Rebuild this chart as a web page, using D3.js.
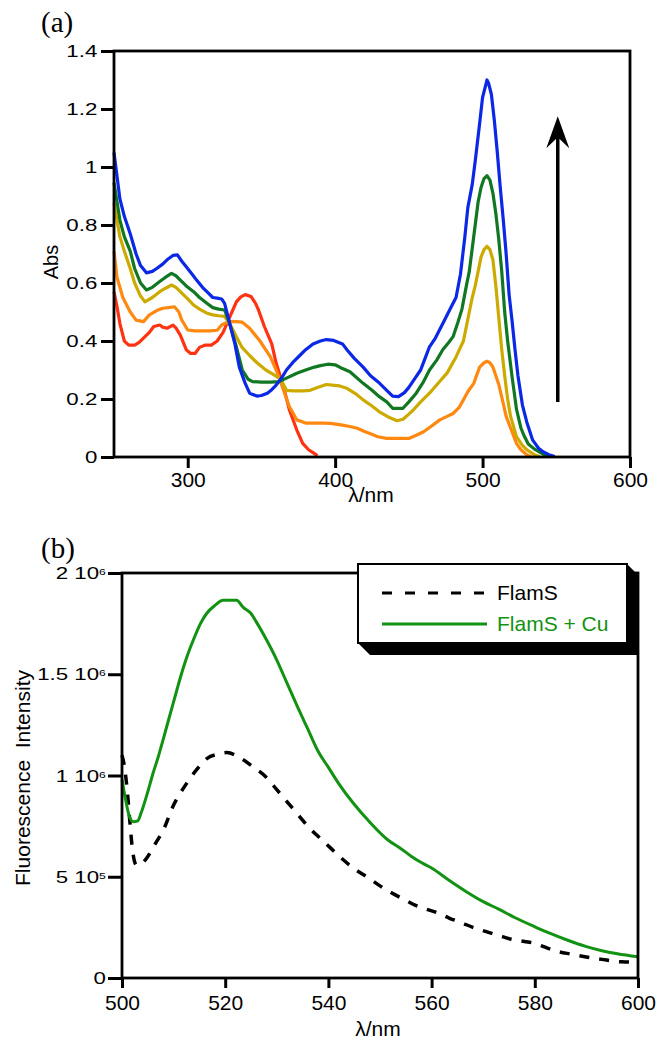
<!DOCTYPE html>
<html>
<head>
<meta charset="utf-8">
<script src="https://cdn.jsdelivr.net/npm/d3@7"></script>
<style>
  body { margin: 0; background: #fff; }
  text { font-family: "Liberation Sans", Arial, Helvetica, sans-serif; fill: #000; }
</style>
</head>
<body>
<div id="chart"></div>
<script>
// (a) absorbance titration, [nm, Abs]
const absRed = [[250,0.57],[252,0.52],[254,0.46],[257,0.4],[260,0.386],[264,0.386],[267,0.395],[270,0.41],[274,0.43],[277,0.45],[281,0.455],[283,0.448],[286,0.444],[290,0.455],[292,0.445],[295,0.42],[299,0.37],[302,0.357],[305,0.357],[308,0.378],[312,0.386],[316,0.386],[320,0.4],[324,0.43],[327,0.465],[330,0.5],[333,0.535],[336,0.552],[339,0.56],[343,0.553],[346,0.53],[348,0.507],[352,0.45],[357,0.39],[360,0.323],[365,0.242],[369,0.162],[374,0.093],[378,0.047],[382,0.025],[385,0.015],[388,0.005]];
const absOrange = [[250,0.71],[252,0.62],[256,0.55],[261,0.5],[265,0.472],[270,0.467],[274,0.49],[279,0.505],[283,0.513],[287,0.515],[291,0.518],[294,0.5],[296,0.472],[300,0.438],[305,0.435],[310,0.435],[315,0.435],[320,0.437],[323,0.455],[328,0.467],[333,0.467],[337,0.465],[342,0.444],[349,0.4],[356,0.346],[360,0.3],[365,0.23],[369,0.173],[374,0.128],[380,0.117],[386,0.117],[392,0.117],[397,0.116],[405,0.11],[410,0.105],[415,0.099],[420,0.088],[424,0.08],[429,0.07],[435,0.064],[442,0.064],[450,0.064],[455,0.075],[460,0.087],[465,0.105],[471,0.128],[476,0.14],[480,0.15],[484,0.17],[487,0.197],[490,0.225],[494,0.254],[498,0.31],[501,0.325],[503,0.33],[505,0.325],[507,0.31],[509,0.28],[511,0.25],[514,0.185],[516,0.14],[519,0.1],[523,0.047],[526,0.025],[530,0.008],[533,0]];
const absYellow = [[250,0.875],[254,0.76],[257,0.71],[261,0.65],[264,0.6],[268,0.555],[271,0.535],[276,0.55],[281,0.57],[285,0.582],[289,0.593],[292,0.585],[296,0.565],[300,0.545],[304,0.524],[308,0.51],[313,0.496],[317,0.49],[321,0.487],[325,0.485],[329,0.455],[333,0.415],[337,0.377],[342,0.35],[347,0.325],[353,0.3],[358,0.285],[363,0.268],[367,0.23],[372,0.228],[378,0.228],[383,0.23],[388,0.24],[394,0.25],[398,0.248],[403,0.245],[408,0.237],[414,0.218],[419,0.197],[425,0.176],[430,0.156],[436,0.138],[442,0.125],[446,0.13],[450,0.148],[453,0.162],[458,0.19],[464,0.22],[470,0.255],[476,0.29],[482,0.345],[487,0.4],[489,0.45],[491,0.5],[493,0.55],[495,0.59],[497,0.64],[499,0.69],[501,0.715],[503,0.727],[505,0.715],[507,0.68],[509,0.59],[511,0.48],[513,0.37],[515,0.28],[517,0.2],[519,0.14],[523,0.07],[527,0.04],[530,0.025],[535,0.008],[539,0.001]];
const absGreen = [[250,0.946],[254,0.817],[257,0.76],[261,0.71],[264,0.65],[268,0.6],[272,0.576],[276,0.585],[281,0.605],[285,0.62],[289,0.633],[292,0.625],[295,0.61],[299,0.59],[304,0.57],[308,0.55],[313,0.53],[317,0.515],[321,0.51],[325,0.507],[328,0.467],[333,0.38],[337,0.3],[341,0.268],[344,0.26],[350,0.258],[356,0.258],[362,0.26],[367,0.272],[374,0.289],[380,0.3],[386,0.31],[390,0.315],[395,0.32],[400,0.318],[405,0.305],[410,0.294],[419,0.254],[425,0.23],[430,0.208],[435,0.19],[439,0.168],[446,0.168],[450,0.19],[455,0.22],[460,0.26],[464,0.3],[469,0.335],[473,0.37],[477,0.395],[480,0.415],[483,0.46],[486,0.51],[489,0.59],[491,0.64],[493,0.72],[495,0.8],[497,0.88],[499,0.93],[501,0.96],[503,0.97],[505,0.955],[507,0.91],[509,0.84],[511,0.75],[513,0.64],[515,0.5],[517,0.4],[520,0.277],[523,0.165],[526,0.1],[528,0.075],[531,0.045],[535,0.028],[541,0.01],[546,0.002]];
const absBlue = [[250,1.05],[254,0.89],[257,0.83],[261,0.77],[265,0.7],[268,0.66],[272,0.635],[276,0.64],[279,0.65],[283,0.665],[286,0.68],[290,0.695],[293,0.697],[296,0.675],[299,0.656],[303,0.63],[306,0.61],[310,0.585],[313,0.57],[317,0.55],[320,0.548],[323,0.545],[325,0.53],[328,0.47],[332,0.39],[335,0.31],[339,0.254],[342,0.22],[347,0.21],[350,0.212],[354,0.22],[357,0.232],[360,0.248],[364,0.275],[367,0.3],[372,0.33],[376,0.35],[380,0.37],[385,0.39],[390,0.4],[394,0.405],[399,0.402],[405,0.39],[408,0.37],[413,0.34],[419,0.31],[424,0.28],[430,0.255],[435,0.23],[439,0.21],[443,0.208],[447,0.222],[450,0.24],[454,0.27],[458,0.3],[461,0.34],[464,0.38],[468,0.41],[472,0.45],[475,0.48],[478,0.51],[482,0.55],[485,0.63],[488,0.76],[490,0.86],[493,0.94],[495,1.02],[498,1.15],[500,1.24],[502,1.28],[503,1.3],[504,1.29],[506,1.25],[508,1.16],[510,1.05],[512,0.93],[514,0.82],[516,0.7],[518,0.56],[520,0.47],[522,0.37],[524,0.28],[527,0.18],[530,0.12],[534,0.058],[538,0.03],[541,0.018],[545,0.008],[549,0.002]];
const absSeries = [absRed, absOrange, absYellow, absGreen, absBlue];
const absColors = ["#ff3311", "#ff8811", "#ccaa00", "#117722", "#0a28e6"];
const absTicks = [0, 0.2, 0.4, 0.6, 0.8, 1, 1.2, 1.4];
const absTickLabels = ["0", "0.2", "0.4", "0.6", "0.8", "1", "1.2", "1.4"];
const absNmTicks = [300, 400, 500, 600];
// arrow: wavelength, from Abs, to Abs
const arrowNm = 551, arrowFrom = 0.19, arrowTo = 1.175;

// (b) fluorescence, [nm, intensity]
const fluoFlamS = [[500,1.1e6],[500.5,1.04e6],[501,0.93e6],[501.5,0.78e6],[502,0.64e6],[502.8,0.558e6],[503.5,0.56e6],[505,0.6e6],[506.5,0.665e6],[508,0.73e6],[510,0.854e6],[512.5,0.96e6],[514.5,1.03e6],[516.5,1.085e6],[518.5,1.105e6],[520.3,1.113e6],[523,1.085e6],[525.4,1.043e6],[528,0.99e6],[530,0.93e6],[532,0.87e6],[534,0.81e6],[536,0.75e6],[538.4,0.69e6],[540.5,0.64e6],[542.6,0.59e6],[545,0.54e6],[547.8,0.494e6],[550,0.455e6],[552.3,0.42e6],[554.5,0.39e6],[556.8,0.36e6],[559,0.34e6],[561.3,0.32e6],[563.5,0.295e6],[565.8,0.273e6],[568,0.25e6],[570.6,0.229e6],[573,0.21e6],[575.5,0.191e6],[578,0.18e6],[580,0.171e6],[582,0.152e6],[584.6,0.13e6],[587,0.118e6],[589.7,0.105e6],[593,0.092e6],[596.8,0.08e6],[600,0.078e6]];
const fluoFlamSCu = [[500,0.98e6],[500.7,0.88e6],[501.4,0.8e6],[502.2,0.772e6],[503,0.775e6],[503.7,0.815e6],[505,0.92e6],[506,1.01e6],[507,1.09e6],[508,1.18e6],[509.3,1.3e6],[510.5,1.41e6],[511.5,1.5e6],[512.5,1.58e6],[514,1.68e6],[515.2,1.75e6],[516.4,1.8e6],[518,1.84e6],[519.6,1.865e6],[522.2,1.865e6],[523.5,1.83e6],[525,1.8e6],[526,1.76e6],[528,1.67e6],[530,1.57e6],[532,1.455e6],[534,1.34e6],[536,1.23e6],[538,1.12e6],[540,1.04e6],[542,0.96e6],[544.8,0.864e6],[548,0.77e6],[551.6,0.68e6],[554,0.64e6],[556.1,0.6e6],[558,0.57e6],[560,0.543e6],[563.3,0.484e6],[566.5,0.43e6],[570,0.377e6],[573,0.34e6],[576,0.3e6],[580,0.253e6],[583,0.22e6],[586,0.19e6],[590,0.155e6],[593,0.135e6],[596,0.12e6],[600,0.105e6]];
const fluoTicks = [0, 5e5, 1e6, 1.5e6, 2e6];
const fluoTickMant = ["0", "5", "1", "1.5", "2"];
const fluoTickExp = ["", "5", "6", "6", "6"];
const fluoNmTicks = [500, 520, 540, 560, 580, 600];
const legendNames = ["FlamS", "FlamS + Cu"];
const fluoGreen = "#129212";

const svg = d3.select("#chart").append("svg")
    .attr("width", 670)
    .attr("height", 1050);

// ---------- panel (a) ----------
const xA = d3.scaleLinear().domain([250, 600]).range([114, 630]);
const yA = d3.scaleLinear().domain([0, 1.4]).range([457, 51]);

svg.append("text").attr("x", 41).attr("y", 32)
    .style("font-family", "'Liberation Serif', 'Times New Roman', serif")
    .style("font-size", "29px").text("(a)");

const gA = svg.append("g");

const yAxisA = gA.append("g")
    .attr("transform", `translate(${xA.range()[0]},0)`)
    .call(d3.axisLeft(yA).tickValues(absTicks).tickSize(13).tickSizeOuter(0)
        .tickFormat((d, i) => absTickLabels[i]));
yAxisA.select(".domain").remove();
yAxisA.selectAll("line").attr("stroke-width", 3);
yAxisA.selectAll("text")
    .attr("x", -12.4)
    .attr("transform", "scale(1.35,1)")
    .style("font-size", "16.5px");

const xAxisA = gA.append("g")
    .attr("transform", `translate(0,${yA.range()[0]})`)
    .call(d3.axisBottom(xA).tickValues(absNmTicks).tickSize(11).tickSizeOuter(0));
xAxisA.select(".domain").remove();
xAxisA.selectAll("line").attr("stroke-width", 3);
xAxisA.selectAll("text").attr("y", 15).style("font-size", "21px");

const lineA = d3.line().x(d => xA(d[0])).y(d => yA(d[1]));
gA.selectAll("path.abs")
    .data(absSeries)
    .join("path")
    .attr("class", "abs")
    .attr("d", lineA)
    .attr("fill", "none")
    .attr("stroke", (d, i) => absColors[i])
    .attr("stroke-width", 3.2)
    .attr("stroke-linejoin", "round");

gA.append("rect")
    .attr("x", xA.range()[0]).attr("y", yA.range()[1])
    .attr("width", xA.range()[1] - xA.range()[0])
    .attr("height", yA.range()[0] - yA.range()[1])
    .attr("fill", "none").attr("stroke", "#000").attr("stroke-width", 2.8);

// arrow
const ax = xA(arrowNm), aTip = yA(arrowTo);
gA.append("line")
    .attr("x1", ax).attr("x2", ax)
    .attr("y1", yA(arrowFrom)).attr("y2", aTip + 20)
    .attr("stroke", "#000").attr("stroke-width", 3.5);
gA.append("path")
    .attr("d", `M${ax},${aTip} L${ax + 11.5},${aTip + 32} L${ax},${aTip + 21} L${ax - 11.5},${aTip + 32} Z`)
    .attr("fill", "#000");

svg.append("text")
    .attr("transform", "translate(58,262) rotate(-90)")
    .attr("text-anchor", "middle")
    .style("font-size", "20px").text("Abs");
svg.append("text")
    .attr("x", 371).attr("y", 502)
    .attr("text-anchor", "middle")
    .style("font-size", "21px").text("λ/nm");

// ---------- panel (b) ----------
const xB = d3.scaleLinear().domain([500, 600]).range([122, 638]);
const yB = d3.scaleLinear().domain([0, 2e6]).range([978, 573]);

svg.append("text").attr("x", 41).attr("y", 558)
    .style("font-family", "'Liberation Serif', 'Times New Roman', serif")
    .style("font-size", "29px").text("(b)");

const gB = svg.append("g");

const yAxisB = gB.append("g")
    .attr("transform", `translate(${xB.range()[0]},0)`)
    .call(d3.axisLeft(yB).tickValues(fluoTicks).tickSize(14).tickSizeOuter(0).tickFormat(""));
yAxisB.select(".domain").remove();
yAxisB.selectAll("line").attr("stroke-width", 3);
yAxisB.selectAll(".tick").each(function (d, i) {
    const t = d3.select(this).append("text")
        .attr("x", -12)
        .attr("dy", "0.34em")
        .attr("text-anchor", "end")
        .attr("transform", "scale(1.35,1)")
        .style("font-size", "16.5px");
    t.append("tspan").text(fluoTickMant[i] + (fluoTickExp[i] ? " 10" : ""));
    if (fluoTickExp[i]) {
        t.append("tspan").attr("dy", "-0.45em").style("font-size", "9px").text(fluoTickExp[i]);
    }
});

const xAxisB = gB.append("g")
    .attr("transform", `translate(0,${yB.range()[0]})`)
    .call(d3.axisBottom(xB).tickValues(fluoNmTicks).tickSize(10).tickSizeOuter(0));
xAxisB.select(".domain").remove();
xAxisB.selectAll("line").attr("stroke-width", 3);
xAxisB.selectAll("text").attr("y", 17).style("font-size", "21px");

const lineB = d3.line().x(d => xB(d[0])).y(d => yB(d[1])).curve(d3.curveMonotoneX);
gB.append("path")
    .attr("d", lineB(fluoFlamS))
    .attr("fill", "none").attr("stroke", "#000")
    .attr("stroke-width", 3.5).attr("stroke-dasharray", "10,10");
gB.append("path")
    .attr("d", lineB(fluoFlamSCu))
    .attr("fill", "none").attr("stroke", fluoGreen)
    .attr("stroke-width", 3).attr("stroke-linejoin", "round");

gB.append("rect")
    .attr("x", xB.range()[0]).attr("y", yB.range()[1])
    .attr("width", xB.range()[1] - xB.range()[0])
    .attr("height", yB.range()[0] - yB.range()[1])
    .attr("fill", "none").attr("stroke", "#000").attr("stroke-width", 2.8);

// legend with 3D shadow
const lg = { x: 358, y: 564, w: 269, h: 79, d: 12 };
gB.append("path")
    .attr("d", `M${lg.x + lg.w},${lg.y} L${lg.x + lg.w + lg.d},${lg.y + lg.d} L${lg.x + lg.w + lg.d},${lg.y + lg.h + lg.d}
        L${lg.x + lg.d},${lg.y + lg.h + lg.d} L${lg.x},${lg.y + lg.h} Z`)
    .attr("fill", "#000");
gB.append("rect")
    .attr("x", lg.x).attr("y", lg.y).attr("width", lg.w).attr("height", lg.h)
    .attr("fill", "#fff").attr("stroke", "#000").attr("stroke-width", 2);

const legendRows = [
    { name: legendNames[0], color: "#000", dash: "10,13", text: "#000", y: 593 },
    { name: legendNames[1], color: fluoGreen, dash: null, text: fluoGreen, y: 624 }
];
legendRows.forEach(r => {
    gB.append("line")
        .attr("x1", 382).attr("x2", 487).attr("y1", r.y).attr("y2", r.y)
        .attr("stroke", r.color).attr("stroke-width", 3)
        .attr("stroke-dasharray", r.dash);
    gB.append("text")
        .attr("x", 497).attr("y", r.y + 7)
        .style("font-size", "21px").style("fill", r.text)
        .text(r.name);
});

svg.append("text")
    .attr("transform", "translate(30,778) rotate(-90)")
    .attr("text-anchor", "middle")
    .style("font-size", "21px")
    .style("white-space", "pre")
    .text("Fluorescence  Intensity");
svg.append("text")
    .attr("x", 378).attr("y", 1036)
    .attr("text-anchor", "middle")
    .style("font-size", "21px").text("λ/nm");
</script>
</body>
</html>
